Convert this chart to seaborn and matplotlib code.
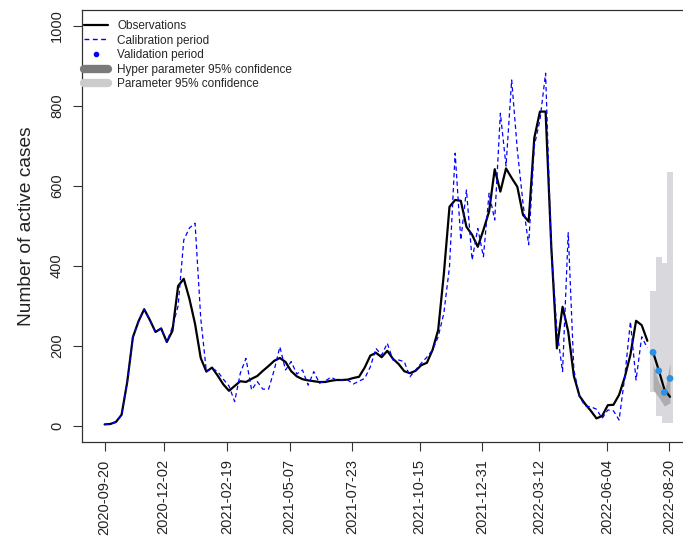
import numpy as np
import pandas as pd
import matplotlib
matplotlib.use("Agg")
import matplotlib.pyplot as plt
from matplotlib.lines import Line2D
import seaborn as sns

# ---- data -------------------------------------------------------------
start_date = "2020-09-20"

# weekly observed active cases during the calibration period
observed_cal = [4, 5, 10, 28, 110, 222, 262, 292, 265, 235,
                244, 210, 238, 350, 368, 318, 255, 170, 136, 146,
                126, 104, 88, 100, 112, 110, 118, 125, 138, 150,
                163, 170, 160, 137, 124, 117, 114, 112, 110, 110,
                113, 115, 115, 116, 120, 123, 146, 176, 183, 172,
                188, 168, 155, 137, 132, 138, 152, 158, 190, 240,
                380, 548, 565, 563, 498, 478, 448, 490, 536, 642,
                586, 644, 620, 598, 528, 511, 720, 786, 786, 450,
                194, 298, 236, 125, 75, 55, 38, 19, 25, 52,
                53, 78, 122, 178, 263, 252, 213]

# model fit over the calibration period
simulated_cal = [4, 5, 10, 28, 110, 222, 262, 292, 265, 235,
                 244, 210, 248, 300, 465, 495, 507, 270, 136, 145,
                 136, 117, 100, 61, 132, 169, 90, 111, 92, 92,
                 140, 198, 140, 161, 130, 140, 102, 136, 107, 112,
                 122, 115, 115, 115, 105, 112, 119, 148, 194, 177,
                 207, 165, 165, 161, 123, 140, 157, 172, 190, 223,
                 282, 398, 682, 465, 590, 415, 494, 423, 582, 515,
                 782, 650, 865, 690, 557, 453, 700, 765, 882, 440,
                 240, 136, 483, 140, 73, 50, 48, 42, 19, 40,
                 38, 15, 123, 261, 115, 223, 195]

# validation period (4 weeks)
observed_val = [185, 140, 92, 73]
predicted_val = [184, 138, 84, 119]
param_low = [85, 26, 7, 7]
param_high = [337, 423, 407, 636]
hyper_low = [90, 72, 50, 58]
hyper_high = [155, 110, 85, 158]

tick_labels = ["2020-09-20", "2020-12-02", "2021-02-19", "2021-05-07",
               "2021-07-23", "2021-10-15", "2021-12-31", "2022-03-12",
               "2022-06-04", "2022-08-20"]
y_ticks = [0, 200, 400, 600, 800, 1000]

legend_labels = ["Observations", "Calibration period", "Validation period",
                 "Hyper parameter 95% confidence", "Parameter 95% confidence"]

# ---- tables -------------------------------------------------------------
cal_dates = pd.date_range(start_date, periods=len(observed_cal), freq="7D")
val_dates = pd.date_range(cal_dates[-1] + pd.Timedelta(days=7),
                          periods=len(observed_val), freq="7D")
cal = pd.DataFrame({"date": cal_dates, "observed": observed_cal,
                    "simulated": simulated_cal})
val = pd.DataFrame({"date": val_dates, "observed": observed_val,
                    "predicted": predicted_val})

# ---- style --------------------------------------------------------------
sns.set_theme(style="ticks")
plt.rcParams["font.family"] = ["Liberation Sans", "DejaVu Sans"]

W, H = 683, 539
fig = plt.figure(figsize=(W / 100, H / 100), dpi=100)
ax = fig.add_axes([82 / W, 97 / H, 610.6 / W, 432 / H])

# confidence envelopes for the validation weeks
ax.bar(val["date"], np.subtract(param_high, param_low), bottom=param_low,
       width=7, color="#d9d9dd", linewidth=0, zorder=1)
ax.fill_between(val["date"], hyper_low, hyper_high, color="#8a8a8a",
                alpha=0.55, linewidth=0, zorder=2)

# observed series and model fit
sns.lineplot(data=cal, x="date", y="observed", ax=ax, color="black",
             linewidth=1.6, estimator=None, sort=False, zorder=3)
sim_line = sns.lineplot(data=cal, x="date", y="simulated", ax=ax,
                        color="blue", linewidth=0.9, estimator=None,
                        sort=False, zorder=4).lines[-1]
sim_line.set_dashes([3.5, 2.5])
sns.lineplot(data=val, x="date", y="observed", ax=ax, color="black",
             linewidth=1.6, estimator=None, sort=False, zorder=3)
sns.scatterplot(data=val, x="date", y="predicted", ax=ax, color="#2b8fe3",
                s=24, edgecolor="none", zorder=5)

# axes
ax.set_xlim(pd.Timestamp(start_date) - pd.Timedelta(days=28),
            pd.Timestamp(start_date) + pd.Timedelta(days=728))
ax.set_ylim(-40, 1040)
ax.set_xticks(pd.to_datetime(tick_labels))
ax.set_xticklabels(tick_labels, rotation=90, fontsize=10.5)
ax.set_yticks(y_ticks)
ax.set_yticklabels([str(v) for v in y_ticks], rotation=90, va="center",
                   fontsize=10.5)
ax.tick_params(axis="both", direction="out", length=6.5, width=0.8,
               color="#333333", labelcolor="#222222")
ax.tick_params(axis="x", pad=6)
ax.tick_params(axis="y", pad=6.5)
for sp in ax.spines.values():
    sp.set_visible(True)
    sp.set_color("#333333")
    sp.set_linewidth(0.9)

ax.set_xlabel("")
ax.set_ylabel("Number of active cases", fontsize=13.8, color="#222222")
ax.yaxis.set_label_coords((35 - 82) / 610.6, 0.5)

handles = [
    Line2D([], [], color="black", linewidth=1.6),
    Line2D([], [], color="blue", linewidth=1.0, dashes=[3.5, 2.5]),
    Line2D([], [], color="blue", marker="o", linestyle="none", markersize=3),
    Line2D([], [], color="#7a7a7a", linewidth=6, solid_capstyle="round"),
    Line2D([], [], color="#cccccc", linewidth=6, solid_capstyle="round"),
]
ax.legend(handles, legend_labels, loc="upper left",
          bbox_to_anchor=(84 / W, 1 - 20 / H), bbox_transform=fig.transFigure,
          frameon=False, fontsize=8.5, borderpad=0, borderaxespad=0,
          handlelength=2.0, handletextpad=0.8, labelspacing=0.22)

fig.savefig("out.png", dpi=100)
